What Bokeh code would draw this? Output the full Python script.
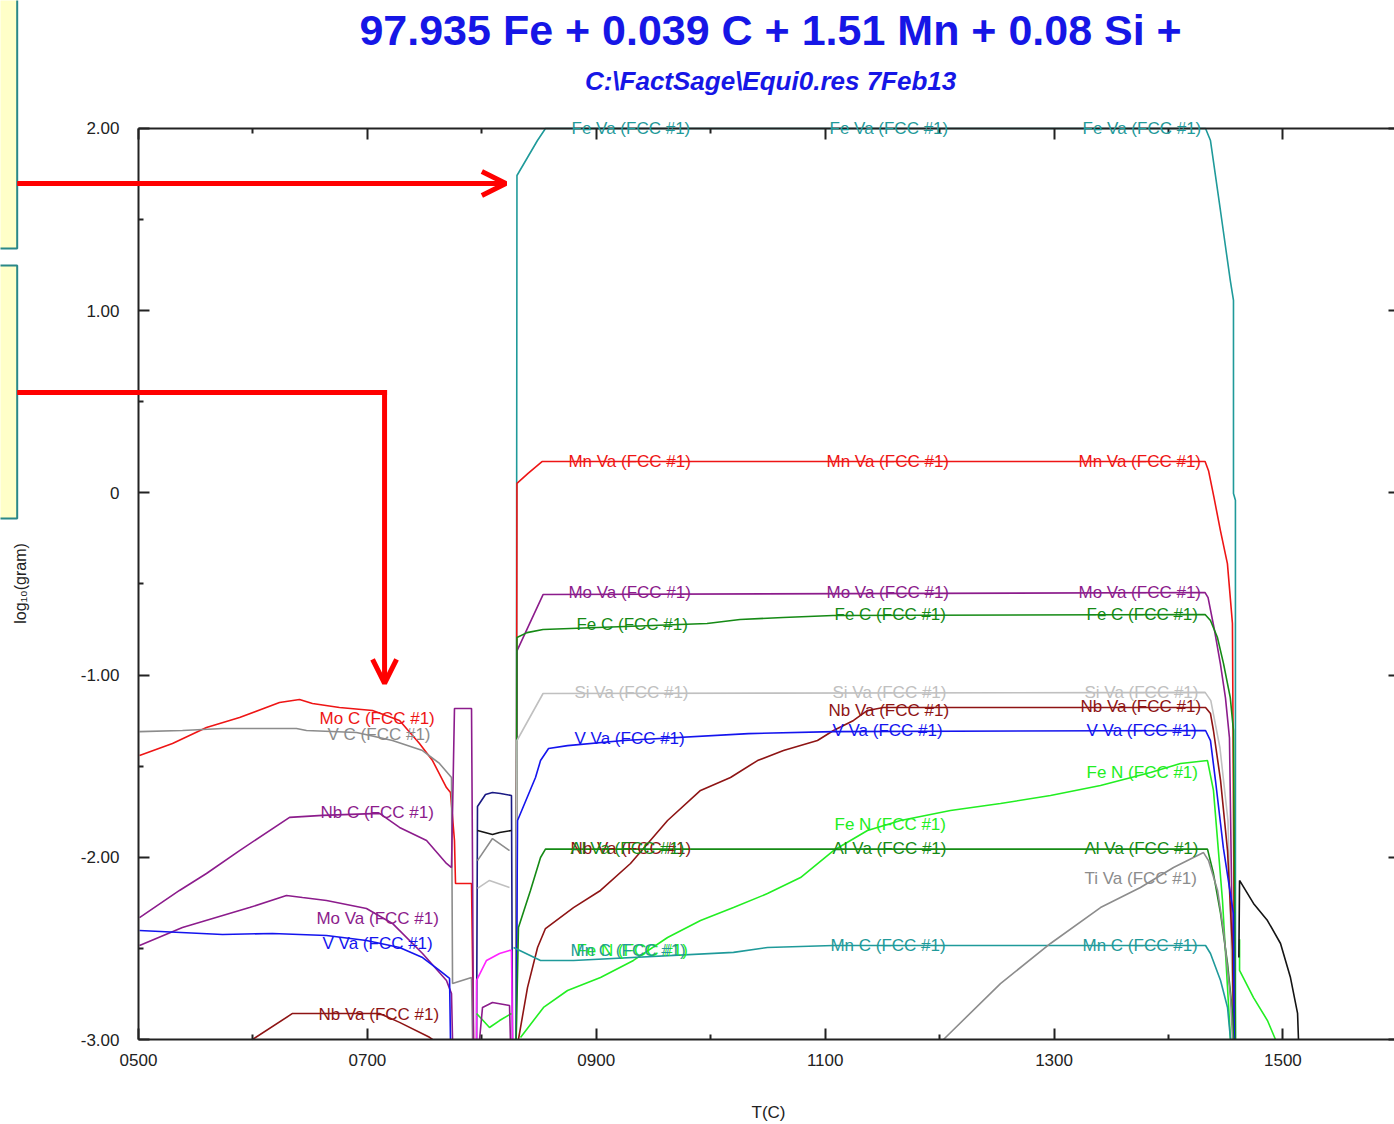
import math
from bokeh.plotting import figure
from bokeh.models import (Range1d, LinearAxis, FixedTicker, PrintfTickFormatter,
                          CustomJSTickFormatter, Arrow, OpenHead, Label,
                          BoxAnnotation, LabelSet, ColumnDataSource)
from bokeh.core.properties import value
from bokeh.embed import file_html
from bokeh.resources import INLINE

# ---------------- data (T in C, log10 gram) ----------------
x_ticks = [500, 700, 900, 1100, 1300, 1500]
x_minor = [600, 800, 1000, 1200, 1400, 1600]
y_ticks = [-3, -2, -1, 0, 1, 2]
y_minor = [-2.5, -1.5, -0.5, 0.5, 1.5]

# high temperature FCC species
fe_va_T = [830.0, 830.7, 848.6, 855.6, 1432.4, 1436.7, 1445.4, 1454.0, 1456.8, 1456.8, 1458.5, 1458.5]
fe_va_g = [-3.0, 1.742, 1.934, 2.0, 2.0, 1.934, 1.55, 1.166, 1.056, -0.003, -0.04, -3.0]

mn_va_T = [830.0, 830.7, 840.4, 852.6, 1432.0, 1435.0, 1439.8, 1445.4, 1451.5, 1455.9, 1457.0, 1457.5]
mn_va_g = [-3.0, 0.052, 0.107, 0.172, 0.172, 0.122, -0.026, -0.207, -0.388, -0.717, -2.0, -3.0]

mo_va_T = [830.0, 830.7, 853.5, 1432.0, 1434.6, 1439.8, 1445.4, 1449.8, 1453.3, 1457.0]
mo_va_g = [-3.0, -0.867, -0.558, -0.547, -0.575, -0.74, -0.94, -1.125, -1.345, -3.0]

fe_c_T = [830.0, 830.7, 839.5, 853.5, 996.8, 1025.6, 1063.2, 1106.9, 1432.0, 1436.7, 1442.8, 1448.1, 1454.0, 1456.8, 1458.5]
fe_c_g = [-3.0, -0.794, -0.767, -0.750, -0.717, -0.695, -0.684, -0.673, -0.667, -0.70, -0.794, -0.937, -1.124, -1.305, -3.0]

si_va_T = [830.0, 830.7, 853.5, 1432.0, 1437.0, 1445.0, 1452.0, 1457.0]
si_va_g = [-3.0, -1.359, -1.101, -1.095, -1.14, -1.40, -1.80, -3.0]

nb_va_T = [832.0, 839.9, 848.7, 855.6, 880.1, 903.7, 929.9, 962.3, 991.1, 1017.3, 1040.9, 1063.6,
           1093.3, 1107.3, 1124.8, 1137.0, 1151.0, 1432.4, 1436.7, 1439.3, 1445.5, 1451.6, 1456.0, 1456.8]
nb_va_g = [-3.0, -2.715, -2.495, -2.391, -2.276, -2.182, -2.034, -1.798, -1.633, -1.562, -1.469, -1.414,
           -1.359, -1.304, -1.249, -1.194, -1.178, -1.178, -1.211, -1.304, -1.578, -1.963, -2.511, -3.0]

v_va_T = [830.0, 831.2, 846.9, 851.3, 858.3, 874.9, 923.8, 1033.0, 1107.3, 1432.4, 1436.7, 1441.1, 1448.0, 1456.8, 1457.5]
v_va_g = [-3.0, -1.798, -1.562, -1.469, -1.403, -1.387, -1.359, -1.321, -1.310, -1.304, -1.36, -1.58, -1.95, -2.31, -3.0]

fe_n_T = [833.8, 853.9, 874.9, 903.7, 932.5, 962.3, 991.1, 1019.9, 1049.6, 1078.5, 1107.3, 1137.0,
          1165.9, 1209.5, 1253.2, 1296.9, 1340.6, 1384.3, 1410.5, 1434.1, 1439.3, 1447.2, 1454.2]
fe_n_g = [-2.989, -2.824, -2.731, -2.660, -2.566, -2.440, -2.347, -2.276, -2.199, -2.111, -1.963, -1.853,
          -1.798, -1.743, -1.705, -1.661, -1.606, -1.535, -1.485, -1.469, -1.633, -2.237, -3.0]

fe_n_liq_T = [1462.1, 1462.1, 1474.3, 1486.5, 1493.5]
fe_n_liq_g = [-2.45, -2.621, -2.770, -2.896, -3.0]

al_va_T = [830.0, 832.0, 842.5, 851.3, 855.6, 1434.1, 1439.3, 1445.5, 1451.6, 1456.0, 1456.8]
al_va_g = [-3.0, -2.385, -2.182, -2.001, -1.955, -1.955, -2.089, -2.308, -2.583, -2.857, -3.0]

mn_c_T = [827.7, 851.3, 880.1, 1019.9, 1049.6, 1107.3, 1432.4, 1436.7, 1445.5, 1451.6, 1454.2]
mn_c_g = [-2.495, -2.566, -2.566, -2.522, -2.495, -2.484, -2.484, -2.528, -2.676, -2.824, -3.0]

ti_va_T = [1203.4, 1253.2, 1296.9, 1340.6, 1375.5, 1404.4, 1430.6, 1435.0, 1442.9, 1448.1, 1454.2, 1456.0]
ti_va_g = [-3.0, -2.693, -2.473, -2.276, -2.166, -2.056, -1.974, -2.018, -2.182, -2.402, -2.770, -3.0]

liq_black_T = [1461.5, 1462.1, 1474.3, 1486.5, 1497.9, 1506.6, 1512.8, 1513.6]
liq_black_g = [-2.55, -2.127, -2.253, -2.347, -2.473, -2.66, -2.857, -3.0]

# low temperature FCC species
mo_c_T = [500.9, 529.7, 559.4, 588.3, 623.2, 640.7, 652.0, 675.6, 704.5, 728.1, 745.5, 756.9, 769.1,
          772.6, 776.1, 777.0, 791.0, 791.9, 792.7]
mo_c_g = [-1.441, -1.375, -1.288, -1.233, -1.150, -1.134, -1.156, -1.178, -1.194, -1.249, -1.375, -1.469,
          -1.617, -1.644, -1.908, -2.144, -2.144, -2.583, -3.0]

v_c_T = [500.9, 538.4, 573.4, 638.0, 646.8, 690.5, 721.9, 748.2, 763.0, 773.5, 774.4, 791.0, 791.9]
v_c_g = [-1.310, -1.304, -1.293, -1.293, -1.304, -1.315, -1.359, -1.414, -1.485, -1.562, -2.693, -2.660, -3.0]

nb_c_T = [500.9, 535.8, 559.4, 588.3, 632.0, 660.8, 710.6, 728.1, 751.7, 769.1, 773.5, 776.1, 791.0, 791.9, 792.7]
nb_c_g = [-2.331, -2.182, -2.089, -1.963, -1.781, -1.770, -1.759, -1.836, -1.908, -2.034, -2.056, -1.183,
          -1.183, -2.07, -3.0]

mo_va_lo_T = [500.9, 538.4, 597.0, 629.3, 643.3, 664.3, 699.2, 721.9, 748.2, 769.1, 773.5, 774.4]
mo_va_lo_g = [-2.484, -2.385, -2.276, -2.210, -2.221, -2.237, -2.281, -2.363, -2.528, -2.676, -2.748, -3.0]

v_va_lo_T = [500.9, 573.4, 617.1, 664.3, 699.2, 728.1, 748.2, 763.0, 771.8, 772.6]
v_va_lo_g = [-2.402, -2.424, -2.418, -2.429, -2.457, -2.495, -2.550, -2.621, -2.665, -3.0]

nb_va_lo_T = [599.6, 634.6, 710.6, 728.1, 754.3, 756.9]
nb_va_lo_g = [-3.0, -2.857, -2.857, -2.906, -2.988, -3.0]

# intermediate region (about 795-830 C)
mid_navy_T = [795.4, 796.2, 803.2, 809.3, 816.3, 825.9, 826.8]
mid_navy_g = [-3.0, -1.721, -1.655, -1.644, -1.650, -1.661, -3.0]
mid_black_T = [796.2, 809.3, 815.5, 825.9]
mid_black_g = [-1.853, -1.875, -1.864, -1.853]
mid_gray_T = [796.2, 809.3, 824.2]
mid_gray_g = [-2.018, -1.897, -1.963]
mid_lgray_T = [796.2, 806.7, 824.2]
mid_lgray_g = [-2.171, -2.127, -2.166]
mid_magenta_T = [795.4, 795.4, 804.1, 815.5, 824.2, 825.9, 826.8]
mid_magenta_g = [-3.0, -2.676, -2.566, -2.528, -2.511, -2.511, -3.0]
mid_lime_T = [795.4, 806.7, 815.5, 825.9]
mid_lime_g = [-2.857, -2.934, -2.896, -2.857]
mid_purple_T = [798.0, 800.6, 809.3, 824.2, 825.0]
mid_purple_g = [-3.0, -2.824, -2.797, -2.813, -3.0]

# curve labels
label_text = ["Fe Va (FCC #1)"] * 3 + ["Mn Va (FCC #1)"] * 3 + ["Mo Va (FCC #1)"] * 3 + \
             ["Fe C (FCC #1)"] * 3 + ["Si Va (FCC #1)"] * 3 + ["Nb Va (FCC #1)"] * 2 + \
             ["V Va (FCC #1)"] * 3 + ["Fe N (FCC #1)"] * 3 + ["Nb Va (FCC #1)"] + \
             ["Al Va (FCC #1)"] * 3 + ["Ti Va (FCC #1)"] + ["Mn C (FCC #1)"] * 3 + \
             ["Mo C (FCC #1)", "V C (FCC #1)", "Nb C (FCC #1)", "Mo Va (FCC #1)",
              "V Va (FCC #1)", "Nb Va (FCC #1)"]
label_T = [878.4, 1103.8, 1324.9,
           875.7, 1101.2, 1321.4,
           875.7, 1101.2, 1321.4,
           882.7, 1108.2, 1328.4,
           881.0, 1106.4, 1326.6,
           1102.9, 1323.1,
           881.0, 1106.4, 1328.4,
           882.7, 1108.2, 1328.4,
           877.5,
           877.5, 1106.4, 1326.6,
           1326.6,
           877.5, 1104.6, 1324.9,
           658.2, 665.2, 659.0, 655.5, 660.8, 657.3]
label_g = [2.0, 2.0, 2.0,
           0.172, 0.172, 0.172,
           -0.547, -0.547, -0.547,
           -0.72, -0.667, -0.667,
           -1.095, -1.095, -1.095,
           -1.194, -1.172,
           -1.348, -1.304, -1.304,
           -2.511, -1.820, -1.535,
           -1.952,
           -1.952, -1.952, -1.952,
           -2.117,
           -2.511, -2.484, -2.484,
           -1.238, -1.326, -1.754, -2.336, -2.473, -2.862]

TEAL, RED, PURPLE, GREEN = "#1f9a9a", "#ee1515", "#8c1c8c", "#158a15"
LGRAY, DRED, BLUE, LIME = "#c0c0c0", "#8e1414", "#1414ee", "#22ee22"
GRAY, NAVY, BLACK, MAGENTA = "#8c8c8c", "#1a1a84", "#141414", "#ff22ff"

label_color = [TEAL] * 3 + [RED] * 3 + [PURPLE] * 3 + [GREEN] * 3 + [LGRAY] * 3 + [DRED] * 2 + \
              [BLUE] * 3 + [LIME] * 3 + [DRED] + [GREEN] * 3 + [GRAY] + [TEAL] * 3 + \
              [RED, GRAY, PURPLE, PURPLE, BLUE, DRED]

title_text = "97.935 Fe + 0.039 C + 1.51 Mn + 0.08 Si +"
subtitle_text = "C:\\FactSage\\Equi0.res 7Feb13"

# annotation placements (data coordinates)
title_pos = (1052.3, 2.538)
subtitle_pos = (1052.3, 2.263)
xlabel_pos = (1050.5, -3.403)
ylabel_pos = (396.9, -0.497)
box_left, box_right = 300.0, 394.0
box1_top, box1_bottom = 2.75, 1.341
box2_top, box2_bottom = 1.248, -0.1405
arrow1_y, arrow1_x_end = 1.698, 821.0
arrow2_y, arrow2_x, arrow2_y_end = 0.551, 715.0, -1.046

# ---------------- figure: whole canvas is the frame ----------------
p = figure(width=1394, height=1124, output_backend="svg", toolbar_location=None,
           title=None, x_range=Range1d(379.41, 1597.5), y_range=Range1d(-3.4665, 2.7025),
           min_border=0, min_border_left=0, min_border_right=0, min_border_top=0, min_border_bottom=0,
           background_fill_color="white", border_fill_color="white")
p.outline_line_color = None
p.grid.visible = False

series = [
    (fe_va_T, fe_va_g, TEAL), (mn_va_T, mn_va_g, RED), (mo_va_T, mo_va_g, PURPLE),
    (fe_c_T, fe_c_g, GREEN), (si_va_T, si_va_g, LGRAY), (nb_va_T, nb_va_g, DRED),
    (v_va_T, v_va_g, BLUE), (fe_n_T, fe_n_g, LIME), (fe_n_liq_T, fe_n_liq_g, LIME),
    (al_va_T, al_va_g, GREEN), (mn_c_T, mn_c_g, TEAL), (ti_va_T, ti_va_g, GRAY),
    (liq_black_T, liq_black_g, BLACK),
    (mo_c_T, mo_c_g, RED), (v_c_T, v_c_g, GRAY), (nb_c_T, nb_c_g, PURPLE),
    (mo_va_lo_T, mo_va_lo_g, PURPLE), (v_va_lo_T, v_va_lo_g, BLUE), (nb_va_lo_T, nb_va_lo_g, DRED),
    (mid_navy_T, mid_navy_g, NAVY), (mid_black_T, mid_black_g, BLACK), (mid_gray_T, mid_gray_g, GRAY),
    (mid_lgray_T, mid_lgray_g, LGRAY), (mid_magenta_T, mid_magenta_g, MAGENTA),
    (mid_lime_T, mid_lime_g, LIME), (mid_purple_T, mid_purple_g, PURPLE),
]
for xs, ys, c in series:
    p.line(xs, ys, line_color=c, line_width=1.6)

labels = LabelSet(x="x", y="y", text="text", text_color="color",
                  source=ColumnDataSource(dict(x=label_T, y=label_g, text=label_text, color=label_color)),
                  text_font=value("Liberation Sans"), text_font_size="17px",
                  text_baseline="middle", text_align="left")
p.add_layout(labels)

# ---------------- axes (fixed inside the canvas) ----------------
AX = "#222222"

def style_ticks(ax):
    ax.axis_line_color = AX
    ax.axis_line_width = 2
    ax.major_tick_in = 11
    ax.major_tick_out = 0
    ax.minor_tick_in = 5
    ax.minor_tick_out = 0
    ax.major_tick_line_color = AX
    ax.minor_tick_line_color = AX
    ax.major_tick_line_width = 2
    ax.minor_tick_line_width = 2
    ax.major_label_text_font = "Liberation Sans"
    ax.major_label_text_font_size = "17px"
    ax.major_label_text_color = AX

xax = p.xaxis[0]
xax.ticker = FixedTicker(ticks=x_ticks, minor_ticks=x_minor)
xax.formatter = PrintfTickFormatter(format="%04d")
style_ticks(xax)
xax.fixed_location = -3.0
xax.bounds = (500, 1600)
xax.major_label_standoff = 14

yax = p.yaxis[0]
yax.ticker = FixedTicker(ticks=y_ticks, minor_ticks=y_minor)
yax.formatter = CustomJSTickFormatter(code="return tick == 0 ? '0' : tick.toFixed(2);")
style_ticks(yax)
yax.fixed_location = 500
yax.bounds = (-3, 2)
yax.major_label_standoff = 19

# top border with inward ticks (no labels)
top_major = LinearAxis(ticker=FixedTicker(ticks=[], minor_ticks=x_ticks), fixed_location=2.0,
                       bounds=(500, 1600))
style_ticks(top_major)
top_major.minor_tick_in = 11
p.add_layout(top_major, "above")
top_minor = LinearAxis(ticker=FixedTicker(ticks=[], minor_ticks=x_minor), fixed_location=2.0,
                       bounds=(500, 1600))
style_ticks(top_minor)
top_minor.axis_line_color = None
p.add_layout(top_minor, "above")

# right edge inward ticks
right_ax = LinearAxis(ticker=FixedTicker(ticks=[], minor_ticks=y_ticks), fixed_location=1597.5)
style_ticks(right_ax)
right_ax.axis_line_color = None
right_ax.minor_tick_in = 6
p.add_layout(right_ax, "right")

# ---------------- texts ----------------
p.add_layout(Label(x=title_pos[0], y=title_pos[1], text=title_text, text_align="center",
                   text_baseline="middle", text_font="Liberation Sans", text_font_size="43px",
                   text_font_style="bold", text_color="#1616e6"))
p.add_layout(Label(x=subtitle_pos[0], y=subtitle_pos[1], text=subtitle_text, text_align="center",
                   text_baseline="middle", text_font="Liberation Sans", text_font_size="26px",
                   text_font_style="bold italic", text_color="#1616e6"))
p.add_layout(Label(x=xlabel_pos[0], y=xlabel_pos[1], text="T(C)", text_align="center",
                   text_baseline="middle", text_font="Liberation Sans", text_font_size="17px",
                   text_color=AX))
p.add_layout(Label(x=ylabel_pos[0], y=ylabel_pos[1], text="log\u2081\u2080(gram)", angle=math.pi / 2,
                   text_align="center", text_baseline="middle", text_font="Liberation Sans",
                   text_font_size="16px", text_color=AX))

# ---------------- callout boxes and arrows ----------------
for top, bottom in [(box1_top, box1_bottom), (box2_top, box2_bottom)]:
    p.add_layout(BoxAnnotation(left=box_left, right=box_right, top=top, bottom=bottom,
                               fill_color="#ffffc8", fill_alpha=1.0,
                               line_color="#2a8888", line_alpha=1.0, line_width=2))

p.add_layout(Arrow(end=OpenHead(line_color="#ff0000", line_width=5, size=24),
                   x_start=box_right, y_start=arrow1_y, x_end=arrow1_x_end, y_end=arrow1_y,
                   line_color="#ff0000", line_width=5))
p.add_layout(Arrow(end=None, x_start=box_right, y_start=arrow2_y, x_end=arrow2_x + 2.2, y_end=arrow2_y,
                   line_color="#ff0000", line_width=5))
p.add_layout(Arrow(end=OpenHead(line_color="#ff0000", line_width=5, size=24),
                   x_start=arrow2_x, y_start=arrow2_y + 0.014, x_end=arrow2_x, y_end=arrow2_y_end,
                   line_color="#ff0000", line_width=5))

open("out.html", "w").write(file_html(p, INLINE))
